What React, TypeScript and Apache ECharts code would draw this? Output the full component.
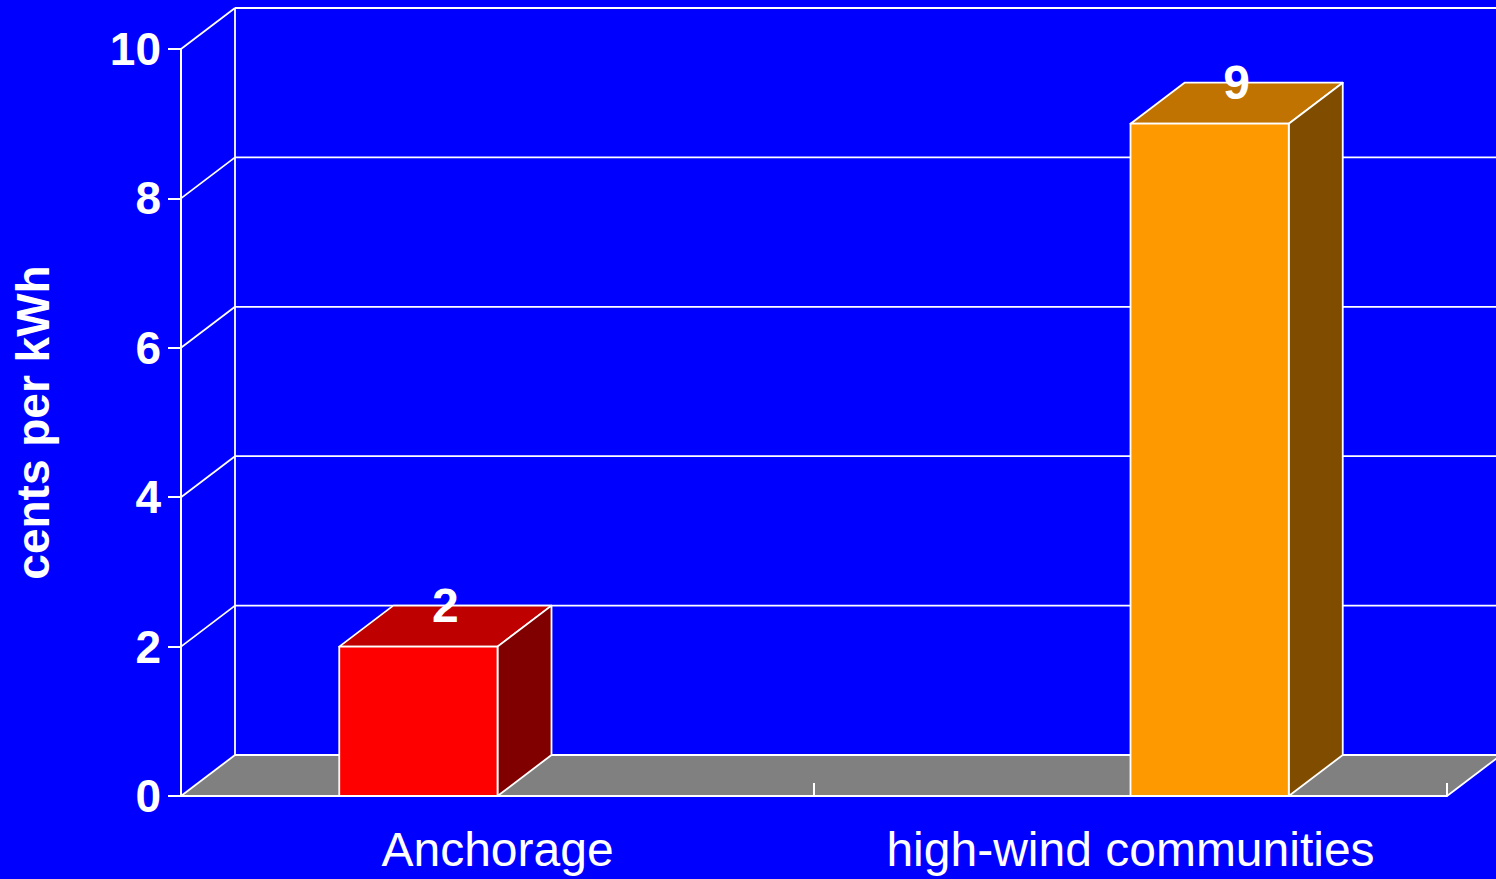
import React, { useEffect, useRef } from "react";
import * as echarts from "echarts";

const categories = ["Anchorage", "high-wind communities"];
const values = [2, 9];
const yTicks = [0, 2, 4, 6, 8, 10];
const yMin = 0;
const yMax = 10;
const yStep = 2;

const FONT = "'Comic Sans MS', 'Liberation Sans', Arial, sans-serif";
const DX = 54;
const DY = -41;
const FRONT = ["#FF0000", "#FF9900"];
const TOP = ["#BF0000", "#C07300"];
const SIDE = ["#800000", "#7F4C00"];

export default function App() {
  const ref = useRef<HTMLDivElement>(null);
  useEffect(() => {
    document.body.style.margin = "0";
    document.body.style.overflow = "hidden";
    const chart = echarts.init(ref.current!, null, { renderer: "svg" });

    const frameItem = (params: any, api: any) => {
      const cs = params.coordSys;
      const left = cs.x;
      const right = cs.x + cs.width;
      const v = api.value(1);
      const y = api.coord([0, v])[1];
      const children: any[] = [];
      const line = (x1: number, y1: number, x2: number, y2: number) => ({
        type: "line",
        shape: { x1, y1, x2, y2 },
        style: { stroke: "#FFFFFF", lineWidth: 1.8 },
      });
      if (params.dataIndex === 0) {
        const yTop = api.coord([0, yMax])[1];
        children.push({
          type: "polygon",
          shape: {
            points: [
              [left, y],
              [right, y],
              [right + DX, y + DY],
              [left + DX, y + DY],
            ],
          },
          style: { fill: "#808080" },
        });
        children.push(line(right, y, right + DX, y + DY));
        children.push(line(left + DX, y + DY, left + DX, yTop + DY));
      }
      children.push(line(left, y, left + DX, y + DY));
      children.push(line(left + DX, y + DY, right + DX + 10, y + DY));
      return { type: "group", children };
    };

    const barItem = (params: any, api: any) => {
      const i = api.value(0);
      const v = api.value(1);
      const n = categories.length;
      const top = api.coord([i, v]);
      const base = api.coord([i, yMin]);
      const band = api.size([1, 0])[0];
      const bw = band / 4;
      const cx = top[0] + (i - (n - 1) / 2) * bw;
      const x0 = cx - bw / 2;
      const x1 = cx + bw / 2;
      const yt = top[1];
      const yb = base[1];
      const stroke = { stroke: "#FFFFFF", lineWidth: 1.8, lineJoin: "round" };
      return {
        type: "group",
        children: [
          {
            type: "polygon",
            shape: { points: [[x0, yt], [x1, yt], [x1 + DX, yt + DY], [x0 + DX, yt + DY]] },
            style: { fill: TOP[i], ...stroke },
          },
          {
            type: "polygon",
            shape: { points: [[x1, yt], [x1 + DX, yt + DY], [x1 + DX, yb + DY], [x1, yb]] },
            style: { fill: SIDE[i], ...stroke },
          },
          {
            type: "rect",
            shape: { x: x0, y: yt, width: bw, height: yb - yt },
            style: { fill: FRONT[i], ...stroke },
          },
          {
            type: "text",
            style: {
              text: String(v),
              x: cx + DX / 2,
              y: yt + DY,
              align: "center",
              verticalAlign: "middle",
              fill: "#FFFFFF",
              fontSize: 48,
              fontWeight: "bold",
              fontFamily: FONT,
            },
          },
        ],
      };
    };

    chart.setOption({
      animation: false,
      backgroundColor: "#0000FF",
      grid: { left: 181, right: 49, top: 49, bottom: 83 },
      xAxis: {
        type: "category",
        data: categories,
        z: 5,
        axisLine: { lineStyle: { color: "#FFFFFF", width: 2 } },
        axisTick: {
          show: true,
          inside: true,
          length: 13,
          interval: 0,
          lineStyle: { color: "#FFFFFF", width: 2 },
        },
        axisLabel: {
          color: "#FFFFFF",
          fontSize: 48,
          fontFamily: FONT,
          margin: 29,
          interval: 0,
        },
        splitLine: { show: false },
      },
      yAxis: {
        type: "value",
        min: yMin,
        max: yMax,
        interval: yStep,
        z: 5,
        name: "cents per kWh",
        nameLocation: "middle",
        nameRotate: 90,
        nameGap: 125,
        nameTextStyle: {
          color: "#FFFFFF",
          fontSize: 46,
          fontWeight: "bold",
          fontFamily: FONT,
        },
        axisLine: { show: true, lineStyle: { color: "#FFFFFF", width: 2 } },
        axisTick: { show: true, length: 13, lineStyle: { color: "#FFFFFF", width: 2 } },
        axisLabel: {
          color: "#FFFFFF",
          fontSize: 46,
          fontWeight: "bold",
          fontFamily: FONT,
          margin: 20,
        },
        splitLine: { show: false },
      },
      series: [
        {
          type: "custom",
          name: "frame",
          z: 1,
          silent: true,
          renderItem: frameItem,
          encode: { x: 0, y: 1 },
          data: yTicks.map((t) => [0, t]),
        },
        {
          type: "custom",
          name: "cents per kWh",
          z: 2,
          renderItem: barItem,
          encode: { x: 0, y: 1 },
          data: values.map((v, i) => [i, v]),
        },
      ],
    });
    return () => chart.dispose();
  }, []);
  return <div ref={ref} style={{ width: 1496, height: 879 }} />;
}
